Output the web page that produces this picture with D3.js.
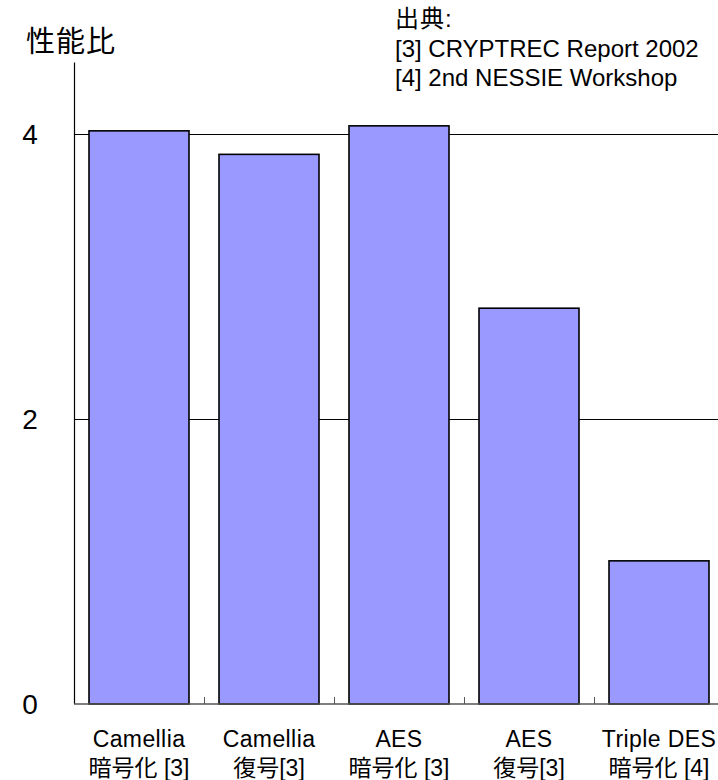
<!DOCTYPE html>
<html>
<head>
<meta charset="utf-8">
<script src="https://cdn.jsdelivr.net/npm/d3@7"></script>
<style>
  body { margin: 0; background: #fff; }
  text { font-family: "Liberation Sans", Arial, "Noto Sans CJK JP", sans-serif; fill: #000; }
</style>
</head>
<body>
<div id="container"></div>
<script>
/* CONSTANTS AND GLOBALS */
const width = 718,
      height = 780;

// chart data
const algoNames = ["Camellia", "Camellia", "AES", "AES", "Triple DES"];
const operations = ["暗号化 [3]", "復号[3]", "暗号化 [3]", "復号[3]", "暗号化 [4]"];
const ratios = [4.02, 3.855, 4.055, 2.776, 1.004];
const yTicks = [0, 2, 4];
const sourceLines = ["出典:", "[3] CRYPTREC Report 2002", "[4] 2nd NESSIE Workshop"];

const data = algoNames.map((d, i) => ({ key: i, name: d, op: operations[i], value: ratios[i] }));

const svg = d3.select("#container").append("svg")
    .attr("width", width)
    .attr("height", height);

// scales
const xScale = d3.scaleBand()
    .domain(data.map(d => d.key))
    .range([74, 724])
    .paddingInner(30 / 130)
    .paddingOuter(15 / 130);

const yScale = d3.scaleLinear()
    .domain([0, 4.5])
    .range([704, 62.4]);

// gridlines (only non zero)
svg.append("g")
  .selectAll("line")
  .data(yTicks.filter(d => d > 0))
  .join("line")
    .attr("x1", 74)
    .attr("x2", width)
    .attr("y1", d => Math.round(yScale(d)) + 0.5)
    .attr("y2", d => Math.round(yScale(d)) + 0.5)
    .attr("stroke", "#000")
    .attr("stroke-width", 1.2);

// bars
svg.append("g")
  .selectAll("rect")
  .data(data)
  .join("rect")
    .attr("x", d => xScale(d.key))
    .attr("y", d => yScale(d.value))
    .attr("width", xScale.bandwidth())
    .attr("height", d => yScale(0) - yScale(d.value))
    .attr("fill", "#9999FF")
    .attr("stroke", "#000")
    .attr("stroke-width", 1.6);

// y axis line
svg.append("line")
    .attr("x1", 74.5).attr("x2", 74.5)
    .attr("y1", yScale(4.5)).attr("y2", yScale(0))
    .attr("stroke", "#000")
    .attr("stroke-width", 1.2);

// x axis line + inward ticks at band boundaries
svg.append("line")
    .attr("x1", 74).attr("x2", width)
    .attr("y1", yScale(0)).attr("y2", yScale(0))
    .attr("stroke", "#555")
    .attr("stroke-width", 1.5);

svg.append("g")
  .selectAll("line")
  .data(data.slice(1))
  .join("line")
    .attr("x1", d => xScale(d.key) - 15 + 0.5)
    .attr("x2", d => xScale(d.key) - 15 + 0.5)
    .attr("y1", yScale(0))
    .attr("y2", yScale(0) - 7)
    .attr("stroke", "#555")
    .attr("stroke-width", 1);

// y tick labels
svg.append("g")
  .selectAll("text")
  .data(yTicks)
  .join("text")
    .attr("x", 30)
    .attr("y", d => yScale(d))
    .attr("dy", "0.36em")
    .attr("text-anchor", "middle")
    .attr("font-size", "28px")
    .text(d => d);

// y title
svg.append("text")
    .attr("x", 26)
    .attr("y", 52)
    .attr("font-size", "29px")
    .attr("letter-spacing", "1px")
    .text("性能比");

// category labels, two lines
const labels = svg.append("g")
  .selectAll("text")
  .data(data)
  .join("text")
    .attr("text-anchor", "middle")
    .attr("font-size", "23px");

labels.append("tspan")
    .attr("x", d => xScale(d.key) + xScale.bandwidth() / 2)
    .attr("y", 747)
    .attr("letter-spacing", "0.4px")
    .text(d => d.name);

labels.append("tspan")
    .attr("x", d => xScale(d.key) + xScale.bandwidth() / 2)
    .attr("y", 776)
    .text(d => d.op);

// source note
svg.append("g")
  .selectAll("text")
  .data(sourceLines)
  .join("text")
    .attr("x", 395)
    .attr("y", (d, i) => 27 + i * 29.5)
    .attr("font-size", "24px")
    .attr("letter-spacing", (d, i) => i === 0 ? "1px" : "0px")
    .text(d => d);
</script>
</body>
</html>
